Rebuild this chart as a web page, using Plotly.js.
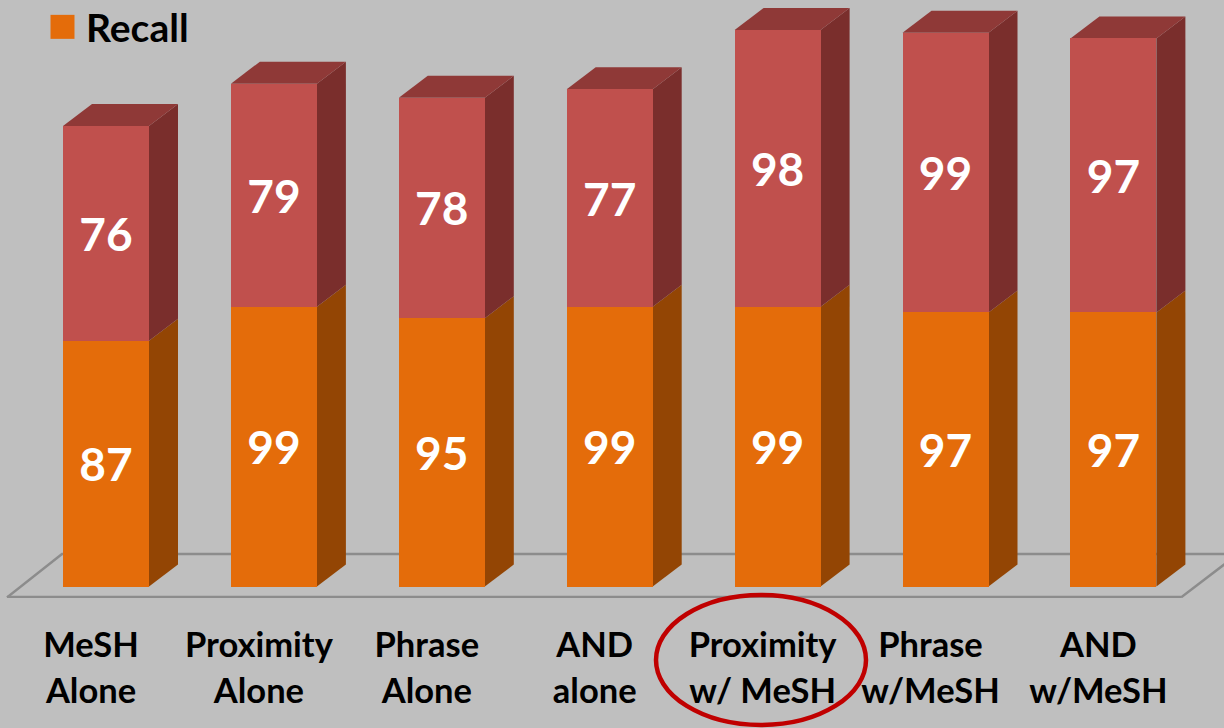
<!DOCTYPE html>
<html>
<head>
<meta charset="utf-8">
<script src="https://cdn.plot.ly/plotly-3.0.1.min.js"></script>
<style>
html,body{margin:0;padding:0;background:#BFBFBF;}
#chart{width:1224px;height:728px;}
.legend .legendpoints path{transform:translate(16.5px,0) scale(2);}
.legend .groups{transform:translateY(-5px);}
</style>
</head>
<body>
<div id="chart"></div>
<script>
var categories = ["MeSH<br>Alone","Proximity<br>Alone","Phrase<br>Alone","AND<br>alone","Proximity<br>w/ MeSH","Phrase<br>w/MeSH","AND<br>w/MeSH"];
var recall = [87,99,95,99,99,97,97];
var precision = [76,79,78,77,98,99,97];

var FONT = "Lato, 'Open Sans', sans-serif";
var ORANGE="#E46C0A", ORANGE_SIDE="#934504", RED="#C0504D", RED_TOP="#8F3937", RED_SIDE="#7A2E2C", FLOOR="#8C8C8C";
var W=1224,H=728, BASE_PX=586.5, PX_PER_UNIT=2.825, PITCH=167.9, FIRST=106, BAR_PX=86, DX_PX=29, DY_PX=22, AXIS_PX=598;

var positions = categories.map(function(_,i){return i;});
var pxX=function(p){return p/PITCH;};
var pxY=function(p){return p/PX_PER_UNIT;};
var half=pxX(BAR_PX/2), dx=pxX(DX_PX), dy=pxY(DY_PX);

function poly(pts,fill){
  return {type:"path",xref:"x",yref:"y",layer:"below",fillcolor:fill,line:{width:0},
    path:"M"+pts.map(function(p){return p[0]+","+p[1];}).join(" L")+" Z"};
}
var shapes=[];
// floor
var fy0=pxY(BASE_PX-597.4), fy1=pxY(BASE_PX-554);
var fx0=(7-FIRST)/PITCH, fx1=(1181-FIRST)/PITCH, fx0b=(62-FIRST)/PITCH, fx1b=(1238-FIRST)/PITCH;
shapes.push({type:"path",xref:"x",yref:"y",layer:"below",line:{color:FLOOR,width:2.5},
  path:"M"+fx0+","+fy0+" L"+fx0b+","+fy1+" L"+fx1b+","+fy1+" L"+fx1+","+fy0});
shapes.push({type:"line",xref:"x",yref:"y",layer:"below",x0:fx0,x1:fx1,y0:fy0,y1:fy0,line:{color:FLOOR,width:3.5}});
// depth faces
positions.forEach(function(x,i){
  var r=x+half, l=x-half, a=recall[i], t=recall[i]+precision[i];
  shapes.push(poly([[r,0],[r+dx,dy],[r+dx,a+dy],[r,a]],ORANGE_SIDE));
  shapes.push(poly([[r,a],[r+dx,a+dy],[r+dx,t+dy],[r,t]],RED_SIDE));
  shapes.push(poly([[l,t],[l+dx,t+dy],[r+dx,t+dy],[r,t]],RED_TOP));
});
// highlight ring
shapes.push({type:"circle",xref:"paper",yref:"paper",layer:"above",
  x0:656/W,x1:866/W,y0:-(725-AXIS_PX)/AXIS_PX,y1:(AXIS_PX-595)/AXIS_PX,
  line:{color:"#C00000",width:4.5},fillcolor:"rgba(0,0,0,0)"});

var traces=[
 {type:"bar",name:"Recall",x:positions,y:recall,text:recall.map(String),width:BAR_PX/PITCH,
  marker:{color:ORANGE,line:{width:0}},textposition:"inside",insidetextanchor:"middle",textangle:0,constraintext:"none",
  insidetextfont:{family:FONT,size:46,color:"#fff",weight:700},cliponaxis:false,hoverinfo:"skip"},
 {type:"bar",name:"Other",showlegend:false,x:positions,y:precision,text:precision.map(String),width:BAR_PX/PITCH,
  marker:{color:RED,line:{width:0}},textposition:"inside",insidetextanchor:"middle",textangle:0,constraintext:"none",
  insidetextfont:{family:FONT,size:46,color:"#fff",weight:700},cliponaxis:false,hoverinfo:"skip"}
];

var layout={
 width:W,height:H,margin:{l:0,r:0,t:0,b:H-AXIS_PX,pad:0},
 paper_bgcolor:"#BFBFBF",plot_bgcolor:"#BFBFBF",barmode:"stack",
 font:{family:FONT,color:"#000"},
 showlegend:true,
 legend:{x:46/W,xanchor:"left",y:1,yanchor:"top",bgcolor:"rgba(0,0,0,0)",borderwidth:0,
   font:{family:FONT,size:39,color:"#000",weight:700},itemwidth:30,itemclick:false,itemdoubleclick:false},
 xaxis:{type:"linear",range:[(0-FIRST)/PITCH,(W-FIRST)/PITCH],tickmode:"array",tickvals:positions,
   ticktext:categories.map(function(c){return c.split("<br>").map(function(s){return '<span style="font-size:34.5px">'+s+'</span>';}).join("<br>");}),
   tickfont:{family:FONT,size:35.4,color:"#000",weight:700},tickangle:0,ticks:"",ticklen:0,
   ticklabelstandoff:23,ticklabelshift:-15,
   showgrid:false,zeroline:false,showline:false,automargin:false,fixedrange:true},
 yaxis:{type:"linear",range:[pxY(BASE_PX-AXIS_PX),pxY(BASE_PX)],visible:false,showgrid:false,zeroline:false,fixedrange:true,automargin:false},
 shapes:shapes
};
Plotly.newPlot("chart",traces,layout,{displayModeBar:false,responsive:false});
</script>
</body>
</html>
